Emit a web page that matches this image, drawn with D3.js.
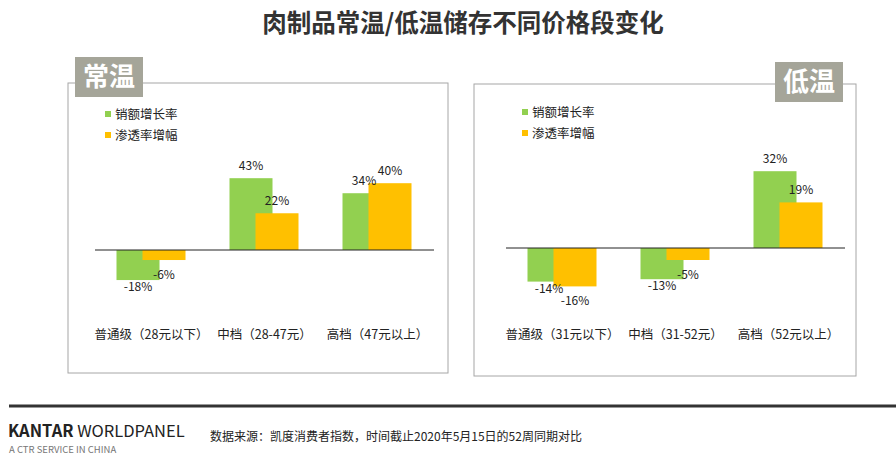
<!DOCTYPE html>
<html>
<head>
<meta charset="utf-8">
<script src="https://cdn.jsdelivr.net/npm/d3@7"></script>
<style>
  body { margin: 0; background: #fff; }
  text { font-family: "Noto Sans CJK SC", "Noto Sans", sans-serif; }
</style>
</head>
<body>
<svg id="chart" width="896" height="457"></svg>
<script>
// data
var seriesNames = ['销额增长率', '渗透率增幅'];
var ambientCats = ['普通级（28元以下）', '中档（28-47元）', '高档（47元以上）'];
var ambientSales = [-18, 43, 34];
var ambientPen = [-6, 22, 40];
var chilledCats = ['普通级（31元以下）', '中档（31-52元）', '高档（52元以上）'];
var chilledSales = [-14, -13, 32];
var chilledPen = [-16, -5, 19];

var colors = ['#92d050', '#ffc000'];

var svg = d3.select('#chart');

// title
svg.append('text')
   .attr('x', 463).attr('y', 32)
   .attr('text-anchor', 'middle')
   .attr('font-size', 24.5).attr('font-weight', 'bold')
   .attr('fill', '#333')
   .text('肉制品常温/低温储存不同价格段变化');

function panel(opt) {
  var g = svg.append('g');

  // frame
  g.append('rect')
   .attr('x', opt.box[0]).attr('y', opt.box[1])
   .attr('width', opt.box[2]).attr('height', opt.box[3])
   .attr('fill', 'none').attr('stroke', '#a6a6a6').attr('stroke-width', 1);

  // tag
  g.append('rect')
   .attr('x', opt.tag[0]).attr('y', opt.tag[1])
   .attr('width', 68).attr('height', 40)
   .attr('fill', '#a5a599');
  g.append('text')
   .attr('x', opt.tag[0] + 34).attr('y', opt.tag[1] + 29)
   .attr('text-anchor', 'middle')
   .attr('font-size', 26).attr('font-weight', 'bold').attr('fill', '#fff')
   .text(opt.name);

  var x = d3.scaleBand().domain(opt.cats).range(opt.xr);
  var y = d3.scaleLinear().domain([-10, 10]).range([opt.zero + 10 * opt.k, opt.zero - 10 * opt.k]);

  var rows = [];
  opt.cats.forEach(function (c, i) {
    rows.push({cat: c, s: 0, v: opt.sales[i]});
    rows.push({cat: c, s: 1, v: opt.pen[i]});
  });

  var bw = 43, off = [-35, -9];
  var cx = function (d) { return x(d.cat) + x.bandwidth() / 2; };

  g.selectAll('rect.bar')
   .data(rows)
   .enter().append('rect')
   .attr('class', 'bar')
   .attr('x', function (d) { return cx(d) + off[d.s]; })
   .attr('y', function (d) { return Math.min(y(d.v), y(0)); })
   .attr('width', bw)
   .attr('height', function (d) { return Math.abs(y(d.v) - y(0)); })
   .attr('fill', function (d) { return colors[d.s]; });

  // zero line
  g.append('line')
   .attr('x1', opt.xr[0]).attr('x2', opt.xr[1])
   .attr('y1', y(0)).attr('y2', y(0))
   .attr('stroke', '#222').attr('stroke-width', 1);

  // value labels: orange negatives sit lower so they clear the green ones
  g.selectAll('text.val')
   .data(rows)
   .enter().append('text')
   .attr('class', 'val')
   .attr('x', function (d) { return cx(d) + off[d.s] + bw / 2; })
   .attr('y', function (d) {
     if (d.v >= 0) return y(d.v) - 8;
     return y(d.v) + (d.s === 1 ? 19 : 11);
   })
   .attr('text-anchor', 'middle')
   .attr('font-size', 12).attr('fill', '#222')
   .text(function (d) { return d.v + '%'; });

  // category axis
  var axis = d3.axisBottom(x).tickSize(0).tickPadding(0);
  var ag = g.append('g').attr('transform', 'translate(0,' + (opt.catY) + ')').call(axis);
  ag.select('.domain').remove();
  ag.selectAll('text')
    .attr('font-size', 12.5).attr('fill', '#222')
    .attr('font-family', '"Noto Sans CJK SC", sans-serif')
    .attr('dy', 0);

  // legend
  var lg = g.selectAll('g.leg')
    .data(seriesNames)
    .enter().append('g')
    .attr('class', 'leg')
    .attr('transform', function (d, i) { return 'translate(' + opt.leg[0] + ',' + (opt.leg[1] + i * 21) + ')'; });
  lg.append('rect')
    .attr('x', 0).attr('y', -3).attr('width', 6).attr('height', 6)
    .attr('fill', function (d, i) { return colors[i]; });
  lg.append('text')
    .attr('x', 10).attr('y', 4.5)
    .attr('font-size', 12.5).attr('fill', '#222')
    .text(function (d) { return d; });
}

panel({
  name: '常温', box: [68, 83, 380, 290], tag: [75, 57],
  cats: ambientCats, sales: ambientSales, pen: ambientPen,
  xr: [95, 434], zero: 250, k: 1.67, catY: 339, leg: [105, 114]
});

panel({
  name: '低温', box: [474, 84, 382, 292], tag: [775, 62],
  cats: chilledCats, sales: chilledSales, pen: chilledPen,
  xr: [506, 845], zero: 248, k: 2.4, catY: 339, leg: [522, 112]
});

// footer
svg.append('line')
   .attr('x1', 9).attr('x2', 896).attr('y1', 406).attr('y2', 406)
   .attr('stroke', '#333').attr('stroke-width', 3);

var kt = svg.append('text')
   .attr('x', 8).attr('y', 437)
   .attr('font-family', 'Lato, sans-serif')
   .attr('font-size', 16.5).attr('fill', '#222');
kt.append('tspan').attr('font-weight', 'bold').text('KANTAR');
kt.append('tspan').text(' WORLDPANEL');

svg.append('text')
   .attr('x', 9).attr('y', 453)
   .attr('font-family', 'Lato, sans-serif')
   .attr('font-size', 9.5).attr('fill', '#777')
   .text('A CTR SERVICE IN CHINA');

svg.append('text')
   .attr('x', 210).attr('y', 441)
   .attr('font-size', 12).attr('fill', '#222')
   .text('数据来源：凯度消费者指数，时间截止2020年5月15日的52周同期对比');
</script>
</body>
</html>
